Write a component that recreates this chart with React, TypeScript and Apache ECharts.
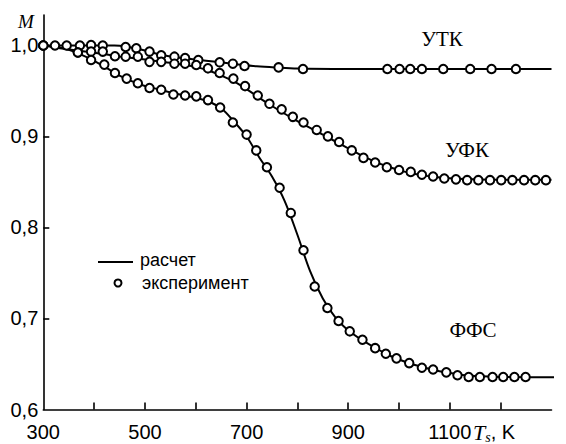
import React, { useEffect, useRef } from "react";
import * as echarts from "echarts";

// Axis ticks / labels
const xTickValues = [400, 500, 600, 700, 800, 900, 1000, 1100, 1200];
const xLabelValues = [300, 500, 700, 900, 1100];
const yTickValues = [0.7, 0.8, 0.9, 1.0];
const yLabelValues = [0.6, 0.7, 0.8, 0.9, 1.0];

// Series names
const seriesNames = ["УТК", "УФК", "ФФС"];

// Experiment (circles)
const utkExpT = [300, 323, 346, 372, 394, 417, 462, 483, 509, 532, 558, 579, 605, 647, 673, 696, 763, 811, 977, 1001, 1022, 1045, 1087, 1140, 1182, 1230];
const utkExpM = [1.0, 1.0, 1.0, 1.0, 1.0005, 1.0, 0.9984, 0.9969, 0.9933, 0.9892, 0.9877, 0.9861, 0.9841, 0.9815, 0.98, 0.9774, 0.9759, 0.9741, 0.9741, 0.9741, 0.9741, 0.9741, 0.9741, 0.9741, 0.9741, 0.9741];

const ufkExpT = [300, 368, 394, 417, 441, 462, 486, 509, 532, 558, 579, 601, 624, 647, 674, 697, 722, 745, 769, 791, 812, 838, 860, 882, 907, 930, 953, 976, 1000, 1023, 1045, 1067, 1089, 1112, 1134, 1156, 1179, 1201, 1223, 1246, 1268, 1289];
const ufkExpM = [1.0, 0.9923, 0.9933, 0.9933, 0.9882, 0.9877, 0.9877, 0.982, 0.982, 0.98, 0.98, 0.9785, 0.9749, 0.9697, 0.9636, 0.9554, 0.9451, 0.9359, 0.9298, 0.9216, 0.9154, 0.9072, 0.9001, 0.8939, 0.8847, 0.8765, 0.8714, 0.8662, 0.8632, 0.8611, 0.858, 0.856, 0.8539, 0.8529, 0.852, 0.852, 0.852, 0.852, 0.852, 0.852, 0.852, 0.852];

const ffsExpT = [300, 368, 394, 420, 441, 464, 486, 509, 532, 556, 579, 601, 624, 648, 673, 700, 719, 740, 765, 787, 812, 834, 859, 881, 903, 928, 953, 974, 995, 1020, 1045, 1067, 1093, 1115, 1137, 1159, 1184, 1205, 1227, 1249];
const ffsExpM = [1.0, 0.9923, 0.9841, 0.979, 0.9697, 0.9636, 0.9585, 0.9533, 0.9513, 0.9462, 0.9451, 0.9441, 0.94, 0.9318, 0.9154, 0.9021, 0.8847, 0.8662, 0.8437, 0.816, 0.775, 0.7351, 0.7115, 0.6972, 0.6859, 0.6767, 0.6674, 0.6613, 0.6562, 0.651, 0.6459, 0.6439, 0.6408, 0.6377, 0.6357, 0.6357, 0.6357, 0.6357, 0.6357, 0.6357];

// Calculation (lines)
const utkCalcT = [300, 440, 470, 500, 530, 560, 600, 640, 680, 720, 760, 800, 900, 1000, 1300];
const utkCalcM = [1.0, 1.0, 0.998, 0.9945, 0.99, 0.987, 0.9845, 0.982, 0.9795, 0.9772, 0.9758, 0.9748, 0.9742, 0.9741, 0.9741];

const ufkCalcT = [300, 350, 400, 450, 500, 550, 600, 625, 650, 675, 700, 725, 750, 775, 800, 825, 850, 875, 900, 925, 950, 975, 1000, 1025, 1050, 1075, 1100, 1150, 1200, 1300];
const ufkCalcM = [1.0, 0.9955, 0.992, 0.988, 0.9845, 0.981, 0.9765, 0.9725, 0.967, 0.9605, 0.952, 0.9425, 0.9335, 0.925, 0.917, 0.9095, 0.902, 0.8945, 0.887, 0.8795, 0.873, 0.8675, 0.863, 0.8595, 0.857, 0.8553, 0.8542, 0.853, 0.8526, 0.8525];

const ffsCalcT = [300, 340, 370, 400, 425, 450, 475, 500, 525, 550, 575, 600, 625, 650, 675, 700, 725, 750, 775, 800, 825, 850, 875, 900, 925, 950, 975, 1000, 1025, 1050, 1075, 1100, 1125, 1150, 1200, 1305];
const ffsCalcM = [1.0, 0.997, 0.991, 0.983, 0.975, 0.967, 0.9605, 0.9555, 0.952, 0.9485, 0.9455, 0.9425, 0.9385, 0.931, 0.9165, 0.9, 0.877, 0.856, 0.829, 0.792, 0.752, 0.722, 0.701, 0.687, 0.677, 0.669, 0.661, 0.655, 0.65, 0.646, 0.6425, 0.64, 0.638, 0.6368, 0.6358, 0.6355];

const legendLabels = ["расчет", "эксперимент"];

const zip = (a: number[], b: number[]) => a.map((v, i) => [v, b[i]]);

const SANS = '"Liberation Sans", Arial, sans-serif';
const SERIF = '"Liberation Serif", "Times New Roman", serif';

export default function App() {
  const ref = useRef<HTMLDivElement>(null);

  useEffect(() => {
    if (!ref.current) return;
    const chart = echarts.init(ref.current, null, { renderer: "svg" });

    const lineStyle = { color: "#000", width: 2 };
    const calc = [zip(utkCalcT, utkCalcM), zip(ufkCalcT, ufkCalcM), zip(ffsCalcT, ffsCalcM)];
    const exp = [zip(utkExpT, utkExpM), zip(ufkExpT, ufkExpM), zip(ffsExpT, ffsExpM)];

    const series: any[] = [];
    calc.forEach((d, i) => {
      series.push({
        type: "line",
        name: seriesNames[i] + " " + legendLabels[0],
        data: d,
        symbol: "none",
        smooth: 0.35,
        lineStyle,
        z: 2,
        clip: false,
      });
    });
    exp.forEach((d, i) => {
      series.push({
        type: "scatter",
        name: seriesNames[i] + " " + legendLabels[1],
        data: d,
        symbol: "circle",
        symbolSize: 8.5,
        itemStyle: { color: "#fff", borderColor: "#000", borderWidth: 2, opacity: 1 },
        z: 3,
        clip: false,
      });
    });

    chart.setOption({
      animation: false,
      backgroundColor: "#fff",
      grid: { left: 43.3, right: 14.5, top: 15, bottom: 34.5, containLabel: false, outerBoundsMode: "none" },
      xAxis: {
        type: "value",
        min: 300,
        max: 1300,
        splitLine: { show: false },
        axisLine: { show: true, onZero: false, lineStyle: { color: "#000", width: 1.6 } },
        axisTick: { show: true, inside: true, length: 7, customValues: xTickValues, lineStyle: { color: "#000", width: 1.6 } },
        axisLabel: {
          customValues: xLabelValues,
          color: "#000",
          fontSize: 20,
          fontFamily: SANS,
          margin: 12,
          formatter: (v: number) => String(v),
        },
      },
      yAxis: {
        type: "value",
        min: 0.6,
        max: 1.0335,
        splitLine: { show: false },
        axisLine: { show: true, onZero: false, lineStyle: { color: "#000", width: 1.6 } },
        axisTick: { show: true, inside: true, length: 6, customValues: yTickValues, lineStyle: { color: "#000", width: 1.6 } },
        axisLabel: {
          customValues: yLabelValues,
          color: "#000",
          fontSize: 20,
          fontFamily: SANS,
          margin: 5,
          formatter: (v: number) => v.toFixed(1).replace(".", ","),
        },
      },
      graphic: [
        { type: "text", x: 18, y: 21, style: { text: "M", font: "italic 19px " + SERIF, fill: "#000", verticalAlign: "middle" } },
        {
          type: "text",
          x: 473,
          y: 432,
          style: {
            text: "{t|T}{s|s}{k|, K}",
            verticalAlign: "middle",
            rich: {
              t: { fontFamily: SERIF, fontStyle: "italic", fontSize: 22, fill: "#000", lineHeight: 24 },
              s: { fontFamily: SERIF, fontStyle: "italic", fontSize: 14, fill: "#000", lineHeight: 24, verticalAlign: "bottom" },
              k: { fontFamily: SANS, fontSize: 20, fill: "#000", lineHeight: 24 },
            },
          },
        },
        { type: "text", x: 442, y: 39, style: { text: seriesNames[0], font: "21px " + SERIF, fill: "#000", align: "center", verticalAlign: "middle" } },
        { type: "text", x: 467, y: 150, style: { text: seriesNames[1], font: "21px " + SERIF, fill: "#000", align: "center", verticalAlign: "middle" } },
        { type: "text", x: 473, y: 330, style: { text: seriesNames[2], font: "21px " + SERIF, fill: "#000", align: "center", verticalAlign: "middle" } },
        { type: "line", shape: { x1: 98, y1: 262, x2: 133, y2: 262 }, style: { stroke: "#000", lineWidth: 2 } },
        { type: "circle", shape: { cx: 118, cy: 283, r: 3.5 }, style: { fill: "#fff", stroke: "#000", lineWidth: 2 } },
        { type: "text", x: 140, y: 260, style: { text: legendLabels[0], font: "18px " + SANS, fill: "#000", verticalAlign: "middle" } },
        { type: "text", x: 142, y: 283, style: { text: legendLabels[1], font: "18px " + SANS, fill: "#000", verticalAlign: "middle" } },
      ],
      series,
    });

    return () => chart.dispose();
  }, []);

  return <div ref={ref} style={{ position: "fixed", left: 0, top: 0, width: 566, height: 444, background: "#fff" }} />;
}
